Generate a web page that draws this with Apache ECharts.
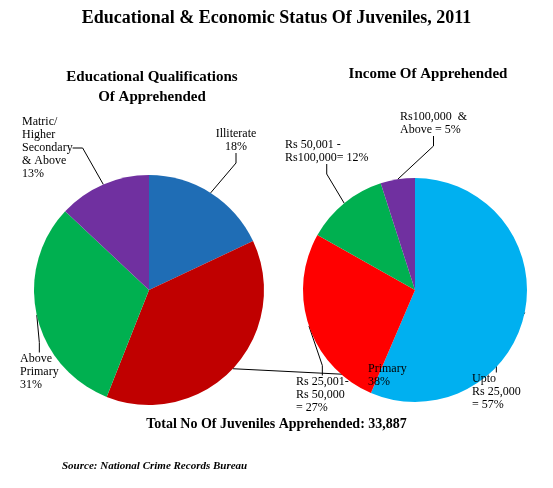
<!DOCTYPE html>
<html><head><meta charset="utf-8">
<script src="https://cdn.jsdelivr.net/npm/echarts@6/dist/echarts.min.js"></script>
<style>html,body{margin:0;background:#fff}#c{width:553px;height:488px}</style>
</head><body><div id="c"></div>
<script>
const eduCategories = ['Illiterate', 'Primary', 'Above\nPrimary', 'Matric/\nHigher\nSecondary\n& Above'];
const eduValues = [18, 38, 31, 13];
const eduColors = ['#1F6DB5', '#C00000', '#00B050', '#7030A0'];
const incCategories = ['Upto\nRs 25,000\n=', 'Rs 25,001-\nRs 50,000\n=', 'Rs 50,001 -\nRs100,000=', 'Rs100,000  &\nAbove ='];
const incValues = [57, 27, 12, 5];
const incColors = ['#00B0F0', '#FF0000', '#00B050', '#7030A0'];

const serif = 'Liberation Serif';
const eduLabelPos = [[236,140,'center'],[368,375,'left'],[20,372,'left'],[22,148,'left']];
const incLabelPos = [[472,392,'left'],[296,395,'left'],[285,151,'left'],[400,123,'left']];

const chart = echarts.init(document.getElementById('c'));
chart.setOption({
  animation:false,
  title:[
    {text:'Educational & Economic Status Of Juveniles, 2011',left:'center',top:4,textStyle:{fontFamily:serif,fontSize:18,fontWeight:'bold',color:'#000'}},
    {text:'Educational Qualifications\nOf Apprehended',left:147,textAlign:'center',top:62,textStyle:{fontFamily:serif,fontSize:15,fontWeight:'bold',color:'#000',lineHeight:20}},
    {text:'Income Of Apprehended',left:423,textAlign:'center',top:62,textStyle:{fontFamily:serif,fontSize:15,fontWeight:'bold',color:'#000'}},
    {text:'Total No Of Juveniles Apprehended: 33,887',left:'center',top:412,textStyle:{fontFamily:serif,fontSize:14,fontWeight:'bold',color:'#000'}},
    {text:'Source: National Crime Records Bureau',left:57,top:456,textStyle:{fontFamily:serif,fontSize:11,fontWeight:'bold',fontStyle:'italic',color:'#000'}}
  ],
  series:[
    {type:'pie',center:[149,290],radius:115,startAngle:90,clockwise:true,avoidLabelOverlap:false,
     data:eduCategories.map((n,i)=>({name:n,value:eduValues[i],itemStyle:{color:eduColors[i]}})),
     label:{formatter:p=>p.name+'\n'+p.value+'%',fontFamily:serif,fontSize:12,color:'#000',lineHeight:13},
     labelLine:{show:true,lineStyle:{color:'#000',width:1},length:10,length2:10},
     labelLayout:p=>{const q=eduLabelPos[p.dataIndex];return {x:q[0],y:q[1],align:q[2],verticalAlign:'middle',hideOverlap:false};}},
    {type:'pie',center:[415,290],radius:112,startAngle:90,clockwise:true,avoidLabelOverlap:false,
     data:incCategories.map((n,i)=>({name:n,value:incValues[i],itemStyle:{color:incColors[i]}})),
     label:{formatter:p=>p.name+' '+p.value+'%',fontFamily:serif,fontSize:12,color:'#000',lineHeight:13},
     labelLine:{show:true,lineStyle:{color:'#000',width:1},length:10,length2:10},
     labelLayout:p=>{const q=incLabelPos[p.dataIndex];return {x:q[0],y:q[1],align:q[2],verticalAlign:'middle',hideOverlap:false};}}
  ]
});
</script></body></html>
